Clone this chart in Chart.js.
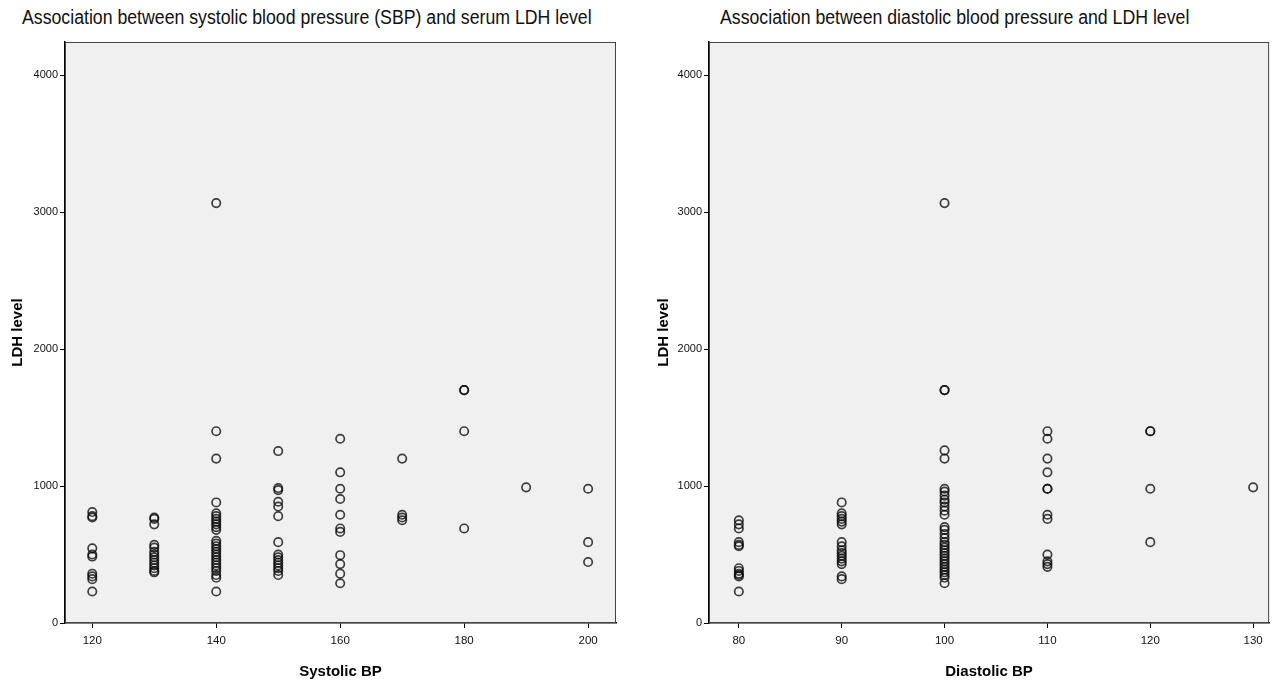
<!DOCTYPE html>
<html>
<head>
<meta charset="utf-8">
<script src="https://cdn.jsdelivr.net/npm/chart.js@4/dist/chart.umd.min.js"></script>
<style>
  html, body { margin: 0; padding: 0; background: #fff; }
  #wrap { position: relative; width: 1275px; height: 686px; overflow: hidden; }
  .ttl { position: absolute; top: 6px; font-family: 'Liberation Sans Narrow', 'Liberation Sans', Arial, sans-serif; font-size: 20px; color: #111; white-space: nowrap; transform: scaleX(0.885); transform-origin: 0 0; }
  .cv { position: absolute; top: 0; height: 686px; }
</style>
</head>
<body>
<div id="wrap">
  <div class="ttl" style="left:22px">Association between systolic blood pressure (SBP) and serum LDH level</div>
  <div class="ttl" style="left:720px">Association between diastolic blood pressure and LDH level</div>
  <div class="cv" style="left:0;width:640px"><canvas id="c1" width="640" height="686"></canvas></div>
  <div class="cv" style="left:640px;width:635px"><canvas id="c2" width="635" height="686"></canvas></div>
</div>
<script>
// ---- Data ----
const sbpLevels = [120, 130, 140, 150, 160, 170, 180, 190, 200];
const ldhSbp120 = [810, 780, 770, 545, 500, 485, 360, 340, 320, 230];
const ldhSbp130 = [770, 760, 720, 570, 550, 520, 500, 480, 460, 440, 420, 400, 380, 370];
const ldhSbp140 = [3065, 1400, 1200, 880, 800, 780, 760, 740, 720, 700, 680, 600, 580, 560, 540, 520, 500, 480, 460, 440, 420, 400, 380, 350, 330, 230];
const ldhSbp150 = [1255, 985, 970, 885, 850, 780, 590, 500, 480, 460, 440, 420, 400, 380, 350];
const ldhSbp160 = [1345, 1100, 980, 905, 790, 690, 665, 495, 430, 360, 290];
const ldhSbp170 = [1200, 790, 770, 750];
const ldhSbp180 = [1700, 1700, 1400, 690];
const ldhSbp190 = [990];
const ldhSbp200 = [980, 590, 445];
const ldhBySbp = [ldhSbp120, ldhSbp130, ldhSbp140, ldhSbp150, ldhSbp160, ldhSbp170, ldhSbp180, ldhSbp190, ldhSbp200];

const dbpLevels = [80, 90, 100, 110, 120, 130];
const ldhDbp80 = [750, 720, 690, 590, 570, 560, 400, 380, 360, 350, 340, 230];
const ldhDbp90 = [880, 800, 780, 760, 740, 720, 590, 560, 530, 510, 490, 470, 450, 430, 340, 320];
const ldhDbp100 = [3065, 1700, 1700, 1260, 1200, 980, 960, 930, 900, 880, 850, 820, 790, 700, 680, 650, 620, 590, 570, 550, 530, 510, 490, 470, 450, 430, 410, 390, 370, 350, 330, 290];
const ldhDbp110 = [1400, 1345, 1200, 1100, 980, 980, 790, 760, 500, 450, 430, 410];
const ldhDbp120 = [1400, 1400, 980, 590];
const ldhDbp130 = [990];
const ldhByDbp = [ldhDbp80, ldhDbp90, ldhDbp100, ldhDbp110, ldhDbp120, ldhDbp130];

const yTicks = [0, 1000, 2000, 3000, 4000];
const sbpTicks = [120, 140, 160, 180, 200];
const dbpTicks = [80, 90, 100, 110, 120, 130];

// ---- Rendering ----
const NARROW = "'Liberation Sans Narrow', 'Liberation Sans', Arial, sans-serif";
const BOLD = "'Liberation Sans', Arial, sans-serif";

const panelPlugin = {
  id: 'panel',
  beforeDraw(chart) {
    const a = chart.chartArea, ctx = chart.ctx;
    ctx.save();
    ctx.fillStyle = '#f0f0f0';
    ctx.fillRect(a.left, a.top, a.right - a.left, a.bottom - a.top);
    ctx.restore();
  },
  afterDraw(chart) {
    const a = chart.chartArea, ctx = chart.ctx;
    ctx.save();
    ctx.strokeStyle = '#444';
    ctx.lineWidth = 1;
    ctx.strokeRect(a.left + 0.5, a.top + 0.5, a.right - a.left - 1, a.bottom - a.top - 1);
    ctx.restore();
  }
};

function toPoints(levels, groups) {
  const pts = [];
  levels.forEach((x, i) => groups[i].forEach(y => pts.push({ x: x, y: y })));
  return pts;
}

function makeChart(id, pts, opt) {
  return new Chart(document.getElementById(id), {
    type: 'scatter',
    data: { datasets: [{
      data: pts,
      pointRadius: 4.2,
      pointBorderWidth: 1.7,
      pointBorderColor: 'rgba(10,10,10,0.78)',
      pointBackgroundColor: 'rgba(0,0,0,0)',
      pointHoverRadius: 4.2
    }]},
    options: {
      responsive: false,
      animation: false,
      events: [],
      layout: { padding: { top: 42, right: opt.padRight, left: 0, bottom: 0 } },
      plugins: { legend: { display: false }, title: { display: false }, tooltip: { enabled: false } },
      scales: {
        x: {
          type: 'linear', position: 'bottom',
          min: opt.xmin, max: opt.xmax,
          afterBuildTicks: s => { s.ticks = opt.xTicks.map(v => ({ value: v })); },
          afterFit: s => { s.height = 63; },
          grid: { drawOnChartArea: false, drawTicks: true, tickLength: 5, color: '#000', lineWidth: 1 },
          border: { display: true, color: '#000', width: 1.5 },
          ticks: { font: { family: NARROW, size: 11.5 }, color: '#111', padding: 6, maxRotation: 0, callback: v => String(v) },
          title: { display: true, text: opt.xTitle, color: '#000', font: { family: BOLD, size: 15, weight: 'bold' }, padding: { top: 0, bottom: 5 } }
        },
        y: {
          type: 'linear', position: 'left',
          min: 0, max: 4241,
          afterBuildTicks: s => { s.ticks = yTicks.map(v => ({ value: v })); },
          afterFit: s => { s.width = opt.yWidth; },
          grid: { drawOnChartArea: false, drawTicks: true, tickLength: 5, color: '#000', lineWidth: 1 },
          border: { display: true, color: '#000', width: 1.5 },
          ticks: { font: { family: NARROW, size: 11 }, color: '#111', padding: 2, callback: v => String(v) },
          title: { display: true, text: 'LDH level', color: '#000', font: { family: BOLD, size: 15, weight: 'bold' }, padding: { top: opt.yTitlePad, bottom: 0 } }
        }
      }
    },
    plugins: [panelPlugin]
  });
}

makeChart('c1', toPoints(sbpLevels, ldhBySbp), {
  xmin: 115.6, xmax: 204.5, xTicks: sbpTicks, xTitle: 'Systolic BP',
  yWidth: 65, padRight: 24, yTitlePad: 9
});
makeChart('c2', toPoints(dbpLevels, ldhByDbp), {
  xmin: 77.1, xmax: 131.55, xTicks: dbpTicks, xTitle: 'Diastolic BP',
  yWidth: 69, padRight: 3, yTitlePad: 15
});
</script>
</body>
</html>
